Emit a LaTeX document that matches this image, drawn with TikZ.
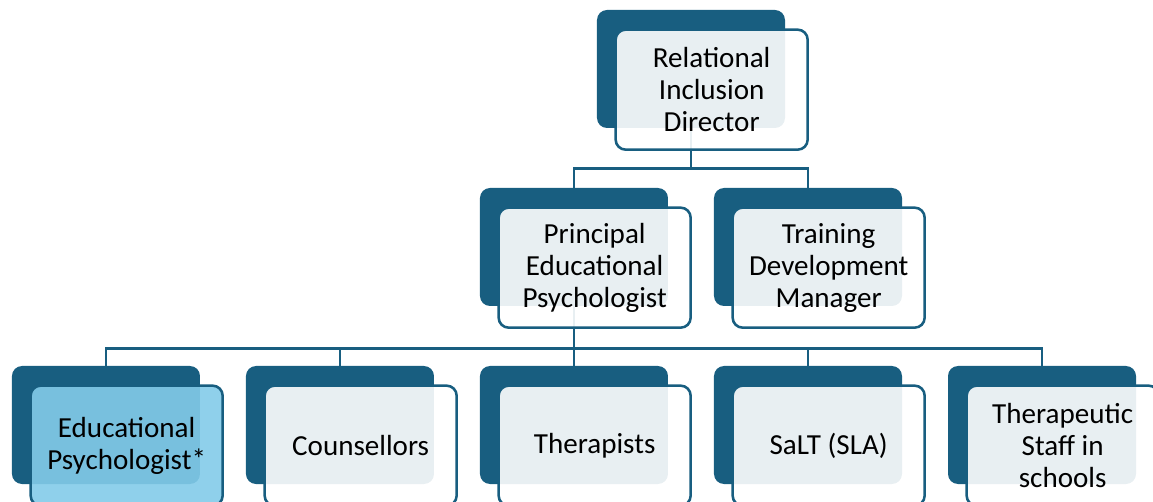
\documentclass[tikz,border=0pt]{standalone}
\usepackage{fontspec}
\setmainfont{Carlito}
\usetikzlibrary{positioning}

\definecolor{orgdark}{RGB}{24,94,128}
\definecolor{orglight}{RGB}{131,203,233}

\tikzset{
  back/.style={rectangle, rounded corners=7.5pt, fill=orgdark,
    minimum width=141pt, minimum height=88.5pt, inner sep=0pt},
  front/.style={rectangle, rounded corners=7.5pt, draw=orgdark, line width=1.9pt,
    fill=white, fill opacity=0.9, text opacity=1, text=black,
    minimum width=144pt, minimum height=90pt, inner sep=0pt, align=center,
    font=\fontsize{21.8}{24}\selectfont},
  link/.style={draw=orgdark, line width=2pt},
}

\begin{document}
\begin{tikzpicture}[on grid]
  \useasboundingbox (-518.25pt,51.75pt) rectangle (346.5pt,-324.75pt);
  % dark back plates
  \node[back] (rid-b) at (0,0) {};
  \node[back, below left=133.5pt and 87.75pt of rid-b] (pep-b) {};
  \node[back, below right=133.5pt and 87.75pt of rid-b] (tdm-b) {};
  \node[back, below=133.5pt of pep-b] (ther-b) {};
  \node[back, left=175.5pt of ther-b] (cou-b) {};
  \node[back, left=175.5pt of cou-b] (ep-b) {};
  \node[back, right=175.5pt of ther-b] (salt-b) {};
  \node[back, right=175.5pt of salt-b] (tsis-b) {};

  % connectors
  \draw[link] (rid-b.south) -- ++(0,-30pt) coordinate (bus1);
  \draw[link] (bus1) -| (pep-b.north);
  \draw[link] (bus1) -| (tdm-b.north);
  \draw[link] (pep-b.south) -- ++(0,-31.5pt) coordinate (bus2);
  \foreach \n in {ep,cou,ther,salt,tsis}
    \draw[link] (bus2) -| (\n-b.north);

  % front boxes with the titles
  \node[front, below right=15.5pt and 15.5pt of rid-b] (rid) {Relational\\Inclusion\\Director};
  \node[front, below right=15.5pt and 15.5pt of pep-b] (pep) {Principal\\Educational\\Psychologist};
  \node[front, below right=15.5pt and 15.5pt of tdm-b] (tdm) {Training\\Development\\Manager};
  \node[front, fill=orglight, below right=15.5pt and 15.5pt of ep-b] (ep) {Educational\\Psychologist*};
  \node[front, below right=15.5pt and 15.5pt of cou-b] (cou) {Counsellors};
  \node[front, below right=15.5pt and 15.5pt of ther-b] (ther) {Therapists};
  \node[front, below right=15.5pt and 15.5pt of salt-b] (salt) {SaLT (SLA)};
  \node[front, below right=15.5pt and 15.5pt of tsis-b] (tsis) {Therapeutic\\Staff in\\schools};
\end{tikzpicture}
\end{document}
